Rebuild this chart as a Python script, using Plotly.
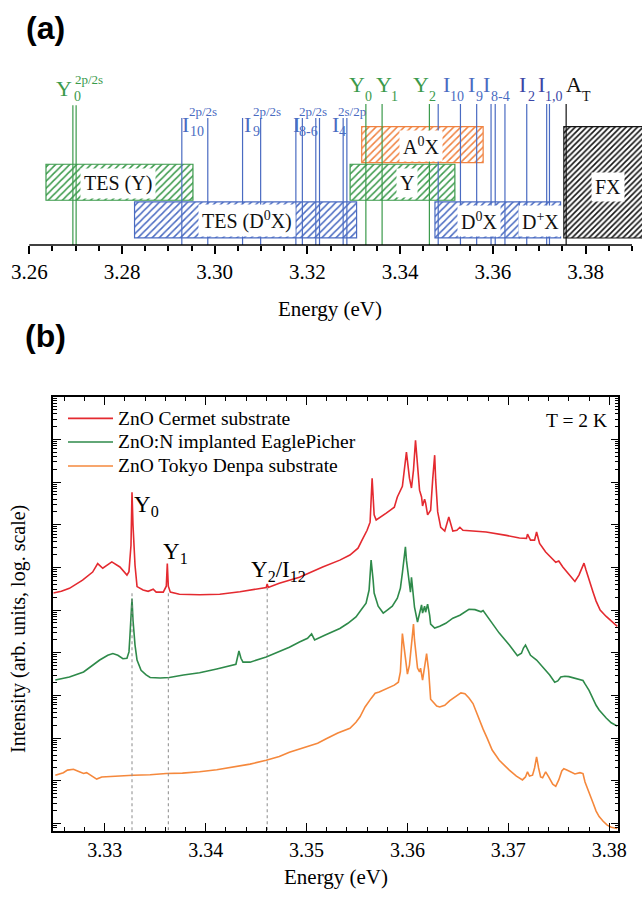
import plotly.graph_objects as go

W, H = 642, 897


def px(x):
    return x / W


def py(y):
    return 1 - y / H


# ===================== Panel (a) data =====================
region_names = ["TES (Y)", "TES (D<sup>0</sup>X)", "A<sup>0</sup>X", "Y",
                "D<sup>0</sup>X", "D<sup>+</sup>X", "FX"]
region_start = [3.2636, 3.2827, 3.3317, 3.3292, 3.3475, 3.3657, 3.3753]
region_end = [3.2953, 3.3306, 3.3579, 3.3518, 3.3657, 3.3746, 3.3950]
region_kind = ["Y", "D", "A", "Y", "D", "D", "FX"]
region_row = [1, 0, 2, 1, 0, 0, -1]

y0_2p2s_lines = [3.2694, 3.2701]
donor_2p2s_lines = [3.2929, 3.2985, 3.3060, 3.3099, 3.3175, 3.3189,
                    3.3218, 3.3226, 3.3277, 3.3285]
y_lines = [3.3326, 3.3361, 3.3463]
donor_lines = [3.3482, 3.3530, 3.3565, 3.3596, 3.3605, 3.3626,
               3.3673, 3.3716, 3.3722]
at_lines = [3.3758]

# ===================== Panel (b) data =====================
series_names = ["ZnO Cermet substrate", "ZnO:N implanted EaglePicher",
                "ZnO Tokyo Denpa substrate"]

red_E = [3.3249, 3.3257, 3.3265, 3.3278, 3.3288, 3.3293, 3.3298, 3.3307, 3.3315, 3.3322,
         3.3324, 3.3326, 3.3327, 3.3328, 3.3330, 3.3332, 3.3338, 3.3343, 3.3348, 3.3351,
         3.3358, 3.3361, 3.3362, 3.3363, 3.3365, 3.3374, 3.3394, 3.3414, 3.3434, 3.3449,
         3.3460, 3.3461, 3.3462, 3.3473, 3.3493, 3.3516, 3.3533, 3.3543, 3.3551, 3.3555,
         3.3560, 3.3563, 3.3565, 3.3567, 3.3569, 3.3579, 3.3587, 3.3590, 3.3595, 3.3599,
         3.3602, 3.3604, 3.3606, 3.3608, 3.3610, 3.3612, 3.3614, 3.3615, 3.3617, 3.3618,
         3.3620, 3.3623, 3.3625, 3.3627, 3.3628, 3.3630, 3.3633, 3.3637, 3.3641, 3.3645,
         3.3649, 3.3652, 3.3655, 3.3668, 3.3678, 3.3698, 3.3711, 3.3718, 3.3719, 3.3722,
         3.3726, 3.3728, 3.3731, 3.3737, 3.3744, 3.3747, 3.3750, 3.3754, 3.3760, 3.3766,
         3.3770, 3.3775, 3.3777, 3.3780, 3.3784, 3.3787, 3.3791, 3.3797, 3.3802, 3.3808]
red_logI = [5.40, 5.44, 5.51, 5.70, 5.89, 6.09, 5.98, 6.13, 6.01, 5.82,
            5.90, 6.52, 7.76, 6.99, 6.05, 5.55, 5.47, 5.44, 5.49, 5.42,
            5.42, 5.56, 6.09, 5.56, 5.42, 5.37, 5.36, 5.37, 5.43, 5.49,
            5.53, 5.61, 5.53, 5.63, 5.77, 6.01, 6.17, 6.29, 6.45, 6.64,
            6.87, 7.06, 8.09, 7.23, 7.11, 7.27, 7.41, 7.65, 7.90, 8.70,
            8.09, 7.86, 8.28, 8.98, 8.28, 7.81, 7.65, 7.44, 7.60, 7.51,
            7.23, 7.34, 8.05, 8.63, 8.05, 7.30, 6.94, 6.85, 7.18, 6.85,
            6.87, 6.94, 6.87, 6.84, 6.83, 6.75, 6.69, 6.68, 6.78, 6.64,
            6.64, 6.83, 6.56, 6.36, 6.19, 6.12, 6.15, 6.01, 5.84, 5.67,
            5.82, 6.10, 5.94, 5.70, 5.42, 5.21, 5.00, 4.85, 4.74, 4.62]

green_E = [3.3251, 3.3265, 3.3279, 3.3295, 3.3303, 3.3308, 3.3313, 3.3318, 3.3322, 3.3324,
           3.3325, 3.3327, 3.3328, 3.3330, 3.3332, 3.3336, 3.3341, 3.3345, 3.3355, 3.3364,
           3.3378, 3.3394, 3.3411, 3.3422, 3.3430, 3.3433, 3.3435, 3.3437, 3.3444, 3.3460,
           3.3473, 3.3483, 3.3493, 3.3501, 3.3505, 3.3508, 3.3518, 3.3533, 3.3541, 3.3549,
           3.3554, 3.3559, 3.3562, 3.3564, 3.3566, 3.3567, 3.3571, 3.3576, 3.3580, 3.3585,
           3.3590, 3.3593, 3.3595, 3.3598, 3.3599, 3.3601, 3.3603, 3.3604, 3.3605, 3.3607,
           3.3610, 3.3612, 3.3614, 3.3615, 3.3617, 3.3618, 3.3620, 3.3622, 3.3623, 3.3627,
           3.3632, 3.3638, 3.3645, 3.3652, 3.3661, 3.3667, 3.3673, 3.3675, 3.3679, 3.3684,
           3.3691, 3.3701, 3.3709, 3.3713, 3.3715, 3.3717, 3.3720, 3.3722, 3.3728, 3.3734,
           3.3741, 3.3746, 3.3749, 3.3752, 3.3756, 3.3760, 3.3768, 3.3774, 3.3776, 3.3780,
           3.3787, 3.3790, 3.3797, 3.3802, 3.3808]
green_logI = [3.36, 3.43, 3.55, 3.83, 3.94, 3.98, 3.94, 3.86, 3.87, 4.02,
              4.41, 5.27, 4.76, 4.18, 3.83, 3.59, 3.48, 3.42, 3.41, 3.42,
              3.48, 3.53, 3.62, 3.69, 3.73, 4.04, 3.87, 3.78, 3.78, 3.90,
              4.02, 4.13, 4.25, 4.34, 4.44, 4.30, 4.41, 4.57, 4.69, 4.84,
              5.00, 5.16, 5.47, 6.17, 5.70, 5.40, 5.09, 4.93, 5.00, 5.09,
              5.28, 5.51, 5.87, 6.48, 6.17, 5.75, 5.42, 5.77, 5.47, 5.07,
              4.72, 4.95, 5.12, 4.93, 5.09, 4.95, 5.14, 4.88, 4.67, 4.58,
              4.62, 4.69, 4.81, 4.88, 5.02, 5.01, 4.96, 4.99, 4.86, 4.67,
              4.46, 4.18, 3.93, 3.99, 4.11, 4.18, 4.04, 3.94, 3.83, 3.66,
              3.48, 3.31, 3.34, 3.43, 3.45, 3.44, 3.38, 3.35, 3.27, 3.12,
              2.77, 2.66, 2.47, 2.36, 2.28]

orange_E = [3.3251, 3.3259, 3.3263, 3.3269, 3.3273, 3.3279, 3.3282, 3.3285, 3.3292, 3.3297,
            3.3303, 3.3312, 3.3328, 3.3345, 3.3361, 3.3377, 3.3394, 3.3411, 3.3427, 3.3444,
            3.3460, 3.3473, 3.3483, 3.3500, 3.3511, 3.3520, 3.3531, 3.3543, 3.3549, 3.3553,
            3.3558, 3.3564, 3.3568, 3.3572, 3.3580, 3.3587, 3.3591, 3.3593, 3.3595, 3.3598,
            3.3600, 3.3602, 3.3604, 3.3606, 3.3607, 3.3609, 3.3610, 3.3612, 3.3613, 3.3615,
            3.3617, 3.3619, 3.3620, 3.3621, 3.3623, 3.3626, 3.3629, 3.3632, 3.3637, 3.3642,
            3.3648, 3.3653, 3.3657, 3.3661, 3.3665, 3.3669, 3.3675, 3.3679, 3.3684, 3.3691,
            3.3696, 3.3701, 3.3708, 3.3714, 3.3717, 3.3719, 3.3721, 3.3724, 3.3726, 3.3728,
            3.3730, 3.3732, 3.3734, 3.3737, 3.3740, 3.3744, 3.3747, 3.3750, 3.3753, 3.3755,
            3.3758, 3.3762, 3.3766, 3.3771, 3.3774, 3.3776, 3.3780, 3.3784, 3.3787, 3.3790,
            3.3794, 3.3798, 3.3802, 3.3808]
orange_logI = [1.13, 1.19, 1.25, 1.27, 1.23, 1.17, 1.19, 1.14, 1.04, 1.09,
               1.10, 1.11, 1.13, 1.14, 1.17, 1.18, 1.21, 1.26, 1.33, 1.39,
               1.48, 1.57, 1.67, 1.80, 1.88, 1.99, 2.12, 2.23, 2.37, 2.50,
               2.73, 2.93, 3.05, 3.08, 3.17, 3.24, 3.31, 3.55, 4.45, 3.94,
               3.50, 3.71, 4.23, 4.67, 4.30, 3.83, 3.64, 3.55, 3.64, 3.36,
               3.64, 3.98, 3.78, 3.59, 2.91, 2.82, 2.75, 2.73, 2.77, 2.88,
               2.98, 3.06, 3.04, 2.94, 2.81, 2.56, 2.21, 2.00, 1.72, 1.48,
               1.36, 1.25, 1.11, 1.02, 1.09, 1.21, 1.11, 1.13, 1.30, 1.56,
               1.30, 1.09, 1.07, 1.21, 1.09, 0.92, 0.87, 1.02, 1.23, 1.28,
               1.25, 1.20, 1.16, 1.19, 1.17, 0.97, 0.70, 0.48, 0.29, 0.16,
               0.05, -0.04, -0.09, -0.12]

peak_labels = ["Y<sub>0</sub>", "Y<sub>1</sub>", "Y<sub>2</sub>/I<sub>12</sub>"]
peak_E = [3.3327, 3.3363, 3.3461]
peak_guide_top = [5.40, 5.40, 5.52]

# ===================== Styles =====================
SERIF = "Liberation Serif, Times New Roman, Times, serif"
SANS = "Liberation Sans, Arial, Helvetica, sans-serif"
COL = {"Y": "#3b9a4b", "D": "#4a6bc2", "A": "#f08240", "FX": "#151515"}
BLUE_DARK = "#3b46a6"
SERIES_COL = ["#e42a30", "#2e8a4a", "#f5883c"]

fig = go.Figure()

# ---------- panel (a) hatched regions ----------
for name, x0, x1, kind, row in zip(region_names, region_start, region_end, region_kind, region_row):
    if row >= 0:
        yc, th = 0.665 + row, 0.955
    else:
        yc, th = 1.663, 2.954
    c = COL[kind]
    fig.add_trace(go.Bar(
        x=[x1 - x0], base=[x0], y=[yc], width=[th], orientation="h",
        xaxis="x", yaxis="y",
        marker=dict(color="white",
                    line=dict(color=c, width=1.2),
                    pattern=dict(shape="/", fgcolor=c, bgcolor="white",
                                 size=5 if kind != "FX" else 4,
                                 solidity=0.3 if kind != "FX" else 0.4,
                                 fillmode="replace")),
        showlegend=False, hoverinfo="skip"))


def vlines(energies, top, color, width=1.2):
    xs, ys = [], []
    for e in energies:
        xs += [e, e, None]
        ys += [0, top, None]
    fig.add_trace(go.Scatter(x=xs, y=ys, mode="lines", xaxis="x", yaxis="y",
                             line=dict(color=color, width=width),
                             showlegend=False, hoverinfo="skip"))


vlines(y0_2p2s_lines, 3.71, COL["Y"])
vlines(donor_2p2s_lines, 3.37, COL["D"])
vlines(y_lines, 3.74, COL["Y"])
vlines(donor_lines, 3.74, COL["D"])
vlines(at_lines, 3.74, "#111111")

# ---------- panel (b) spectra ----------
series = [(red_E, red_logI), (green_E, green_logI), (orange_E, orange_logI)]
for (ex, ly), name, c in zip(series, series_names, SERIES_COL):
    fig.add_trace(go.Scatter(x=ex, y=[10 ** v for v in ly], mode="lines", name=name,
                             xaxis="x2", yaxis="y2",
                             line=dict(color=c, width=1.6), showlegend=False))

for e, top in zip(peak_E, peak_guide_top):
    fig.add_trace(go.Scatter(x=[e, e], y=[10 ** -0.3, 10 ** top], mode="lines",
                             xaxis="x2", yaxis="y2",
                             line=dict(color="#8a8a8a", width=1, dash="3px,3px"),
                             showlegend=False, hoverinfo="skip"))

annotations = []
shapes = []


def txt(t, x, y, size, color="black", xanchor="left", yanchor="middle", **kw):
    d = dict(text=t, x=px(x), y=py(y), xref="paper", yref="paper", showarrow=False,
             xanchor=xanchor, yanchor=yanchor, borderpad=0,
             font=dict(family=kw.pop("family", SERIF), size=size, color=color))
    d.update(kw)
    annotations.append(d)


# panel letters
txt("<b>(a)</b>", 46, 28, 32, xanchor="center", family=SANS)
txt("<b>(b)</b>", 46, 336, 32, xanchor="center", family=SANS)

# panel (a) labels with stacked super/subscripts
G, B = COL["Y"], COL["D"]
stacked = [
    ("Y", 55, 88, "2p/2s", 74, 79, "0", 73, 96, G),
    ("I", 181, 124.5, "2p/2s", 188, 111.5, "10", 188.5, 131.5, B),
    ("I", 243, 124.5, "2p/2s", 252, 111.5, "9", 251.5, 131.5, B),
    ("I", 292, 124.5, "2p/2s", 298, 111.5, "8-6", 298, 131.5, B),
    ("I", 330.5, 124.5, "2s/2p", 337, 111.5, "4", 337.5, 131.5, B),
]
for base, bx, by, sup, sx, sy, sub, ux, uy, c in stacked:
    txt(base, bx, by, 22, c)
    txt(sup, sx, sy, 13, c)
    txt(sub, ux, uy, 14, c)

toprow = [
    ("Y", 348, "0", 363.5, G), ("Y", 375, "1", 390, G), ("Y", 411.5, "2", 427.5, G),
    ("I", 442, "10", 448.5, B), ("I", 467, "9", 474.5, B), ("I", 482.5, "8-4", 490.5, B),
    ("I", 518, "2", 526.5, BLUE_DARK), ("I", 537, "1,0", 543.5, BLUE_DARK),
    ("A", 565, "T", 581, "#111111"),
]
for base, bx, sub, ux, c in toprow:
    txt(base, bx, 84.5, 22, c)
    txt(sub, ux, 96, 14, c)

# region labels (white boxes)
region_label_pos = [(117.5, 183.5), (247, 221), (421, 146.5), (407, 183),
                    (479, 221), (540, 221), (607.5, 187.5)]
for name, (lx, ly) in zip(region_names, region_label_pos):
    txt(name, lx, ly, 20, "#111111", xanchor="center", bgcolor="white", borderpad=3)

# panel (a) axis line
shapes.append(dict(type="line", xref="paper", yref="paper",
                   x0=px(29.3), x1=px(632), y0=py(245), y1=py(245),
                   line=dict(color="black", width=1.6)))

# titles
txt("Energy (eV)", 330, 309, 21, xanchor="center")
txt("Energy (eV)", 336, 877, 21, xanchor="center")
txt("Intensity (arb. units, log. scale)", 18, 629, 20, xanchor="center", textangle=-90)

# panel (b) legend (drawn manually)
leg_y = [418.3, 442, 466]
for name, c, ly in zip(series_names, SERIES_COL, leg_y):
    shapes.append(dict(type="line", xref="paper", yref="paper",
                       x0=px(68), x1=px(113), y0=py(ly), y1=py(ly),
                       line=dict(color=c, width=1.7)))
    txt(name, 117, ly, 19.5)

txt("T = 2 K", 545, 420, 19.5)

# peak labels
peak_label_pos = [(133, 506), (162, 553), (250, 571)]
for t, (lx, ly) in zip(peak_labels, peak_label_pos):
    txt(t, lx, ly, 23)

ax_common = dict(color="black", linecolor="black", tickcolor="black",
                 showgrid=False, zeroline=False, automargin=False)

minor_vals = [m * 10 ** k for k in range(-1, 10) for m in range(2, 10)]

fig.update_layout(
    width=W, height=H, autosize=False, margin=dict(l=0, r=0, t=0, b=0, pad=0),
    paper_bgcolor="white", plot_bgcolor="rgba(0,0,0,0)",
    barmode="overlay", showlegend=False,
    font=dict(family=SERIF, color="black"),
    xaxis=dict(domain=[px(29.3), 1.0], range=[3.26, 3.26 + (642 - 29.3) / 4636],
               anchor="y", showline=False, ticks="outside", ticklen=8, tickwidth=1.5,
               tick0=3.26, dtick=0.02, tickformat=".2f",
               tickfont=dict(family=SERIF, size=21, color="black"),
               minor=dict(dtick=0.005, tick0=3.26, ticks="outside", ticklen=5,
                          tickwidth=1.5, tickcolor="black"),
               **ax_common),
    yaxis=dict(domain=[py(245), py(56.5)], range=[0, 5], visible=False,
               fixedrange=True, automargin=False),
    xaxis2=dict(domain=[px(53.3), px(618.3)], range=[3.3249, 3.3809], anchor="y2",
                showline=True, linewidth=1.6, mirror="ticks",
                ticks="inside", ticklen=8, tickwidth=1.4, tick0=3.33, dtick=0.01,
                tickformat=".2f",
                tickfont=dict(family=SERIF, size=20, color="black"),
                minor=dict(dtick=0.002, tick0=3.33, ticks="inside", ticklen=4,
                           tickwidth=1.2, tickcolor="black"),
                **ax_common),
    yaxis2=dict(domain=[py(830.7), py(396.7)], type="log", range=[-0.17, 10.0],
                anchor="x2", showline=True, linewidth=1.6, mirror="ticks",
                ticks="inside", ticklen=8, tickwidth=1.4,
                tickmode="array", tickvals=[10 ** k for k in range(0, 11)],
                showticklabels=False,
                minor=dict(tickmode="array", tickvals=minor_vals, ticks="inside",
                           ticklen=4, tickwidth=1.1, tickcolor="black"),
                **ax_common),
    annotations=annotations, shapes=shapes,
)

fig.write_html("out.html", config={"displayModeBar": False},
               post_script="document.body.style.margin='0px';")
